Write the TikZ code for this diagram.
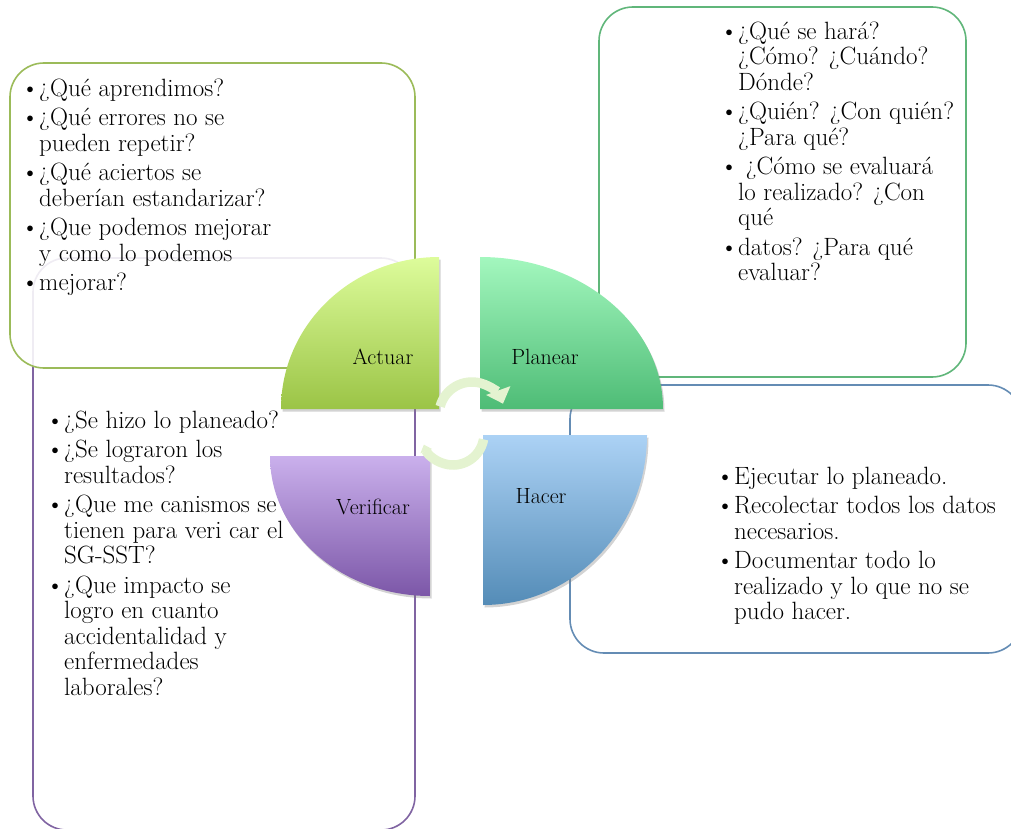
\documentclass[tikz,border=0pt]{standalone}
\usepackage{fontspec}
\usepackage{tikz}
\usetikzlibrary{arrows.meta,shadows}

\definecolor{actuarline}{RGB}{155,187,89}
\definecolor{planearline}{RGB}{96,182,122}
\definecolor{hacerline}{RGB}{100,140,180}
\definecolor{verificarline}{RGB}{128,100,162}
\definecolor{actuartop}{RGB}{221,252,155}
\definecolor{actuarbot}{RGB}{155,196,70}
\definecolor{planeartop}{RGB}{163,247,190}
\definecolor{planearbot}{RGB}{78,188,118}
\definecolor{hacertop}{RGB}{172,210,245}
\definecolor{hacerbot}{RGB}{84,140,183}
\definecolor{verificartop}{RGB}{202,176,236}
\definecolor{verificarbot}{RGB}{124,87,168}
\definecolor{girocolor}{RGB}{228,243,208}
\newcommand{\punto}{\makebox[18pt][l]{\textbullet}}

\begin{document}
\begin{tikzpicture}[x=1pt,y=-1pt,
  caja/.style={rounded corners=34pt, line width=1.6pt},
  cuarto/.style={draw=none, drop shadow={opacity=.35,shadow xshift=1.5pt,shadow yshift=-2.5pt}},
  etiqueta/.style={inner sep=0pt, font=\fontsize{22}{24}\selectfont},
  texto/.style={anchor=north west, inner sep=0pt, font=\fontsize{25}{25.5}\selectfont},
  giro/.style={line width=9.5pt, draw=girocolor}]
        \clip (0,0) rectangle (1011,829);
        \draw[caja, verificarline] (33,258) rectangle (415,830);
        \draw[caja, actuarline, fill=white, fill opacity=.88] (10,63) rectangle (415,368);
        \draw[caja, planearline] (599,7) rectangle (966,377);
        \draw[caja, hacerline] (570,385) rectangle (1022,653);
        \foreach \cx/\cy/\rx/\ry/\sa/\col in {439/409/158/152/180/actuar, 480/409/183/152/270/planear,
                                            483/435/164/170/0/hacer, 430/456/160/140/90/verificar}
        {
          \path[cuarto, top color=\col top, bottom color=\col bot] (\cx,\cy) -- ++(\sa:{\rx} and {\ry})
            arc[start angle=\sa, delta angle=90, x radius=\rx, y radius=\ry] -- cycle;
        }
        \node[etiqueta] (actuar) at (383,357) {Actuar};
        \node[etiqueta] (planear) at (545,357) {Planear};
        \node[etiqueta] (hacer) at (541,496) {Hacer};
        \node[etiqueta] (verificar) at (373,507) {Verificar};
        \coordinate (giroA) at (472,415);
        \coordinate (giroB) at (453,434);
        \draw[giro, -{Triangle[width=25pt,length=14pt]}] (giroA) ++(195:33) arc[start angle=195, end angle=340, radius=33];
        \draw[giro, -{Triangle[width=12pt,length=7pt]}] (giroB) ++(10:31) arc[start angle=10, end angle=160, radius=31];
        \node[texto] (preguntasA) at (21,78) {\begin{tabular}{@{}l@{}l@{}}
          \punto & ¿Qué aprendimos?\\[4pt]
          \punto & ¿Qué errores no se\\
                 & pueden repetir?\\[4pt]
          \punto & ¿Qué aciertos se\\
                 & deberían estandarizar?\\[4pt]
          \punto & ¿Que podemos mejorar\\
                 & y como lo podemos\\[4pt]
          \punto & mejorar?
        \end{tabular}};
        \node[texto] (preguntasP) at (720,21) {\begin{tabular}{@{}l@{}l@{}}
          \punto & ¿Qué se hará?\\
                 & ¿Cómo? ¿Cuándo?\\
                 & Dónde?\\[4pt]
          \punto & ¿Quién? ¿Con quién?\\
                 & ¿Para qué?\\[4pt]
          \punto & \ ¿Cómo se evaluará\\
                 & lo realizado? ¿Con\\
                 & qué\\[4pt]
          \punto & datos? ¿Para qué\\
                 & evaluar?
        \end{tabular}};
        \node[texto] (tareasH) at (716,466) {\begin{tabular}{@{}l@{}l@{}}
          \punto & Ejecutar lo planeado.\\[4pt]
          \punto & Recolectar todos los datos\\
                 & necesarios.\\[4pt]
          \punto & Documentar todo lo\\
                 & realizado y lo que no se\\
                 & pudo hacer.
        \end{tabular}};
        \node[texto] (preguntasV) at (46,410) {\begin{tabular}{@{}l@{}l@{}}
          \punto & ¿Se hizo lo planeado?\\[4pt]
          \punto & ¿Se lograron los\\
                 & resultados?\\[4pt]
          \punto & ¿Que me canismos se\\
                 & tienen para veri car el\\
                 & SG-SST?\\[4pt]
          \punto & ¿Que impacto se\\
                 & logro en cuanto\\
                 & accidentalidad y\\
                 & enfermedades\\
                 & laborales?
        \end{tabular}};
      \end{tikzpicture}
\end{document}
